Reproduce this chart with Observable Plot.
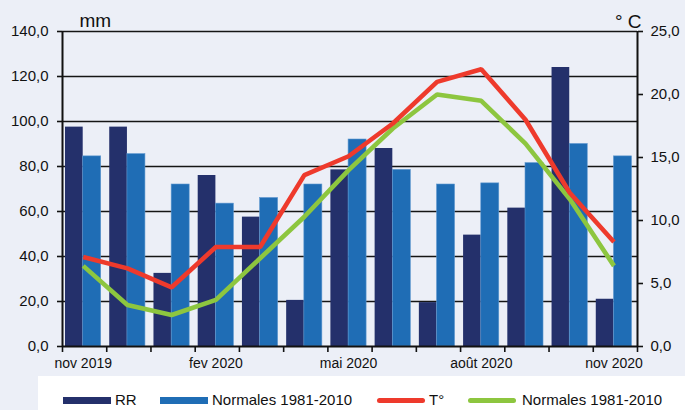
<!DOCTYPE html>
<html>
<head>
<meta charset="utf-8">
<script src="https://cdn.jsdelivr.net/npm/d3@7"></script>
<script src="https://cdn.jsdelivr.net/npm/@observablehq/plot@0.6"></script>
<style>
  html, body { margin: 0; padding: 0; background: #ECEFF7; }
  body { width: 685px; height: 410px; overflow: hidden; position: relative; font-family: "Liberation Sans", Arial, sans-serif; }
  #legend { position: absolute; left: 38px; top: 376px; width: 647px; height: 34px; background: #ffffff; }
  .sw { position: absolute; }
  .lt { position: absolute; top: 391px; font-size: 15px; line-height: 18px; color: #111; white-space: nowrap; }
</style>
</head>
<body>
<div id="chart"></div>
<div id="legend"></div>
<script>
// ---- data ----
const months = ["nov 2019","déc 2019","jan 2020","fev 2020","mar 2020","avr 2020","mai 2020","juin 2020","juil 2020","août 2020","sep 2020","oct 2020","nov 2020"];
const shownLabels = ["nov 2019","fev 2020","mai 2020","août 2020","nov 2020"];
const rr = [97.5, 97.5, 32.5, 76, 57.5, 20.5, 78.5, 88, 19.5, 49.5, 61.5, 124, 21];
const rrNormales = [84.5, 85.5, 72, 63.5, 66, 72, 92, 78.5, 72, 72.5, 81.5, 90, 84.5];
const temp = [7.1, 6.2, 4.7, 7.9, 7.9, 13.6, 15.1, 17.7, 21.0, 22.0, 18.0, 12.2, 8.3];
const tempNormales = [6.4, 3.3, 2.5, 3.7, 7.0, 10.3, 14.0, 17.3, 20.0, 19.5, 16.1, 11.7, 6.4];
const mmTicks = [0, 20, 40, 60, 80, 100, 120, 140];
const degTicks = [0, 5, 10, 15, 20, 25];
const legendItems = [
  {label: "RR", type: "bar", color: "#24306B"},
  {label: "Normales 1981-2010", type: "bar", color: "#1F6DB5"},
  {label: "T°", type: "line", color: "#EE3A2C"},
  {label: "Normales 1981-2010", type: "line", color: "#8DC63F"}
];

// ---- build ----
const colRR = "#24306B", colRRN = "#1F6DB5", colT = "#EE3A2C", colTN = "#8DC63F";
const mmMax = 140, degMax = 25, k = mmMax / degMax;
const data = months.map((m, i) => ({i, m, rr: rr[i], rrn: rrNormales[i], t: temp[i], tn: tempNormales[i]}));
const c = 0.468, a = 0.068, b = 0.875;
const fmt = v => v.toFixed(1).replace(".", ",");

const chart = Plot.plot({
  width: 685,
  height: 376,
  marginLeft: 62,
  marginRight: 48,
  marginTop: 31,
  marginBottom: 30,
  style: {background: "transparent", fontFamily: "'Liberation Sans', Arial, sans-serif", fontSize: "15px", color: "#111"},
  x: {type: "linear", domain: [0, months.length], axis: null},
  y: {domain: [0, mmMax], axis: null},
  marks: [
    Plot.ruleY(mmTicks.filter(d => d > 0), {stroke: "#151515", strokeWidth: 1.3}),
    Plot.rectY(data, {x1: d => d.i + a, x2: d => d.i + c, y1: 0, y2: "rr", fill: colRR}),
    Plot.rectY(data, {x1: d => d.i + c, x2: d => d.i + b, y1: 0, y2: "rrn", fill: colRRN, stroke: "#5E97CF", strokeWidth: 0.6}),
    Plot.line(data, {x: d => d.i + c, y: d => d.tn * k, stroke: colTN, strokeWidth: 4.6, strokeLinejoin: "miter", strokeLinecap: "butt"}),
    Plot.line(data, {x: d => d.i + c, y: d => d.t * k, stroke: colT, strokeWidth: 4.6, strokeLinejoin: "miter", strokeLinecap: "butt"}),
    Plot.ruleX([0, months.length], {stroke: "#111", strokeWidth: 2}),
    Plot.ruleY([0], {stroke: "#111", strokeWidth: 2}),
    Plot.axisY({ticks: mmTicks, tickFormat: fmt, tickSize: 5, tickPadding: 9, stroke: "#111", strokeWidth: 1.6, fontSize: 15, label: null}),
    Plot.axisY({anchor: "right", ticks: degTicks.map(d => d * k), tickFormat: v => fmt(v / k), tickSize: 5, tickPadding: 8, stroke: "#111", strokeWidth: 1.6, fontSize: 15, label: null}),
    Plot.axisX({ticks: d3.range(0, months.length + 1), tickFormat: () => "", tickSize: 6, stroke: "#111", strokeWidth: 1.6, label: null}),
    Plot.axisX({ticks: data.filter(d => shownLabels.includes(d.m)).map(d => d.i + c), tickFormat: v => months[Math.round(v - c)], tickSize: 0, tickPadding: 12, fontSize: 14, label: null}),
    Plot.text(["mm"], {frameAnchor: "top-left", dx: 17, dy: -5, fontSize: 19, textAnchor: "start", lineAnchor: "bottom", fill: "#111"}),
    Plot.text(["° C"], {frameAnchor: "top-right", dx: 4, dy: -4, fontSize: 19, textAnchor: "end", lineAnchor: "bottom", fill: "#111"})
  ]
});
document.getElementById("chart").appendChild(chart);

// ---- legend ----
const legendPos = [
  {sx: 63, tx: 115}, {sx: 160, tx: 212}, {sx: 377, tx: 429}, {sx: 468, tx: 522}
];
legendItems.forEach((it, j) => {
  const sw = document.createElement("div");
  sw.className = "sw";
  sw.style.left = legendPos[j].sx + "px";
  sw.style.width = "48px";
  sw.style.background = it.color;
  if (it.type === "bar") { sw.style.top = "397px"; sw.style.height = "7px"; }
  else { sw.style.top = "398px"; sw.style.height = "5px"; sw.style.borderRadius = "3px"; }
  document.body.appendChild(sw);
  const t = document.createElement("div");
  t.className = "lt";
  t.style.left = legendPos[j].tx + "px";
  t.textContent = it.label;
  document.body.appendChild(t);
});
</script>
</body>
</html>
